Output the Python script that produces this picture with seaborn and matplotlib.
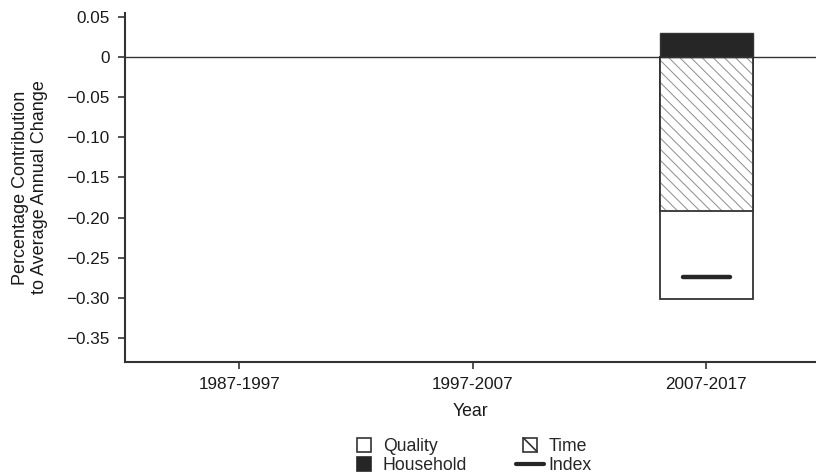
import numpy as np
import pandas as pd
import matplotlib
matplotlib.use("Agg")
import matplotlib.pyplot as plt
import seaborn as sns
from matplotlib.patches import Patch, Rectangle
from matplotlib.lines import Line2D
from matplotlib.legend_handler import HandlerBase
from matplotlib.ticker import FuncFormatter

# Contributions to average annual change by period
periods = ["1987-1997", "1997-2007", "2007-2017"]
quality = [np.nan, np.nan, -0.110]
time_part = [np.nan, np.nan, -0.192]
household = [np.nan, np.nan, 0.030]
index_val = [np.nan, np.nan, -0.274]

yticks = [0.05, 0.0, -0.05, -0.10, -0.15, -0.20, -0.25, -0.30, -0.35]

sns.set_style("ticks")
plt.rcParams["font.family"] = ["Liberation Sans", "DejaVu Sans"]
plt.rcParams["hatch.linewidth"] = 0.7

dark = "#262626"
edge = "#333333"
txt = "#1a1a1a"

df = pd.DataFrame({
    "period": periods,
    "quality": quality,
    "time": time_part,
    "household": household,
    "index": index_val,
})
# Negative components stack downward from zero: time first, quality below it
df["neg_total"] = df["time"] + df["quality"]

fig = plt.figure(figsize=(8.16, 4.74), dpi=100)
ax = fig.add_axes([125 / 816, (474 - 362) / 474, (816 - 125) / 816, (362 - 13) / 474])

bar_w = 0.4
# Quality: full negative stack (drawn underneath)
sns.barplot(data=df, x="period", y="neg_total", order=periods, color="white",
            edgecolor=edge, linewidth=1.3, width=bar_w, saturation=1,
            errorbar=None, ax=ax)
# Time: hatched fill
sns.barplot(data=df, x="period", y="time", order=periods, color="white",
            edgecolor="#8c8c8c", linewidth=0, hatch="\\\\\\", width=bar_w,
            saturation=1, errorbar=None, ax=ax)
# Time: outline
sns.barplot(data=df, x="period", y="time", order=periods, fill=False,
            edgecolor=edge, linewidth=1.3, width=bar_w, saturation=1,
            errorbar=None, ax=ax)
# Household: positive contribution
sns.barplot(data=df, x="period", y="household", order=periods, color=dark,
            edgecolor=edge, linewidth=1.0, width=bar_w, saturation=1,
            errorbar=None, ax=ax)

ax.axhline(0, color=edge, lw=1.0, zorder=1)

# Index: short horizontal marker inside each bar
for i, v in enumerate(index_val):
    if not np.isnan(v):
        ax.plot([i - 0.1, i + 0.1], [v, v], color=dark, lw=3.2,
                solid_capstyle="round", zorder=5)

ax.set_xlim(-0.49, 2.47)
ax.set_ylim(-0.38, 0.055)
ax.set_yticks(yticks)


def fmt(v, pos):
    if abs(v) < 1e-9:
        return "0"
    s = f"{abs(v):.2f}"
    return ("\u2212" + s) if v < 0 else s


ax.yaxis.set_major_formatter(FuncFormatter(fmt))
ax.tick_params(axis="both", labelsize=12.3, colors=edge, labelcolor=txt,
               length=5, width=1.2, pad=6)
ax.set_xlabel("Year", fontsize=12.7, color=txt, labelpad=8)
ax.set_ylabel("Percentage Contribution\nto Average Annual Change", fontsize=13,
              color=txt, labelpad=13.5, linespacing=1.1)

sns.despine(ax=ax)
for side in ("left", "bottom"):
    ax.spines[side].set_color(edge)
    ax.spines[side].set_linewidth(1.5)


class SquareHandler(HandlerBase):
    """Small square legend key, optionally with one diagonal stroke."""

    def __init__(self, diagonal=False, size=10, **kw):
        super().__init__(**kw)
        self.diagonal = diagonal
        self.size = size

    def create_artists(self, legend, orig_handle, xdescent, ydescent,
                       width, height, fontsize, trans):
        s = self.size
        x0 = -xdescent + (width - s) / 2
        y0 = -ydescent + (height - s) / 2
        rect = Rectangle((x0, y0), s, s, facecolor=orig_handle.get_facecolor(),
                         edgecolor=orig_handle.get_edgecolor(), linewidth=1.2,
                         transform=trans)
        artists = [rect]
        if self.diagonal:
            artists.append(Line2D([x0, x0 + s], [y0 + s, y0], color=edge,
                                  lw=1.2, transform=trans))
        return artists


h_quality = Patch(facecolor="white", edgecolor=edge)
h_house = Patch(facecolor=dark, edgecolor=dark)
h_time = Patch(facecolor="white", edgecolor=edge)
h_index = Line2D([0], [0], color=dark, lw=3)

handles = [h_quality, h_house, h_time, h_index]
labels = ["Quality", "Household", "Time", "Index"]
fig.legend(handles, labels, ncol=2, loc="center",
           bbox_to_anchor=(471 / 816, 1 - 456 / 474),
           frameon=False, fontsize=12.7, handlelength=1.6, handletextpad=0.25,
           columnspacing=2.78, labelspacing=0.12,
           handler_map={h_quality: SquareHandler(),
                        h_house: SquareHandler(),
                        h_time: SquareHandler(diagonal=True)})

fig.savefig("out.png", dpi=100, facecolor="white")
